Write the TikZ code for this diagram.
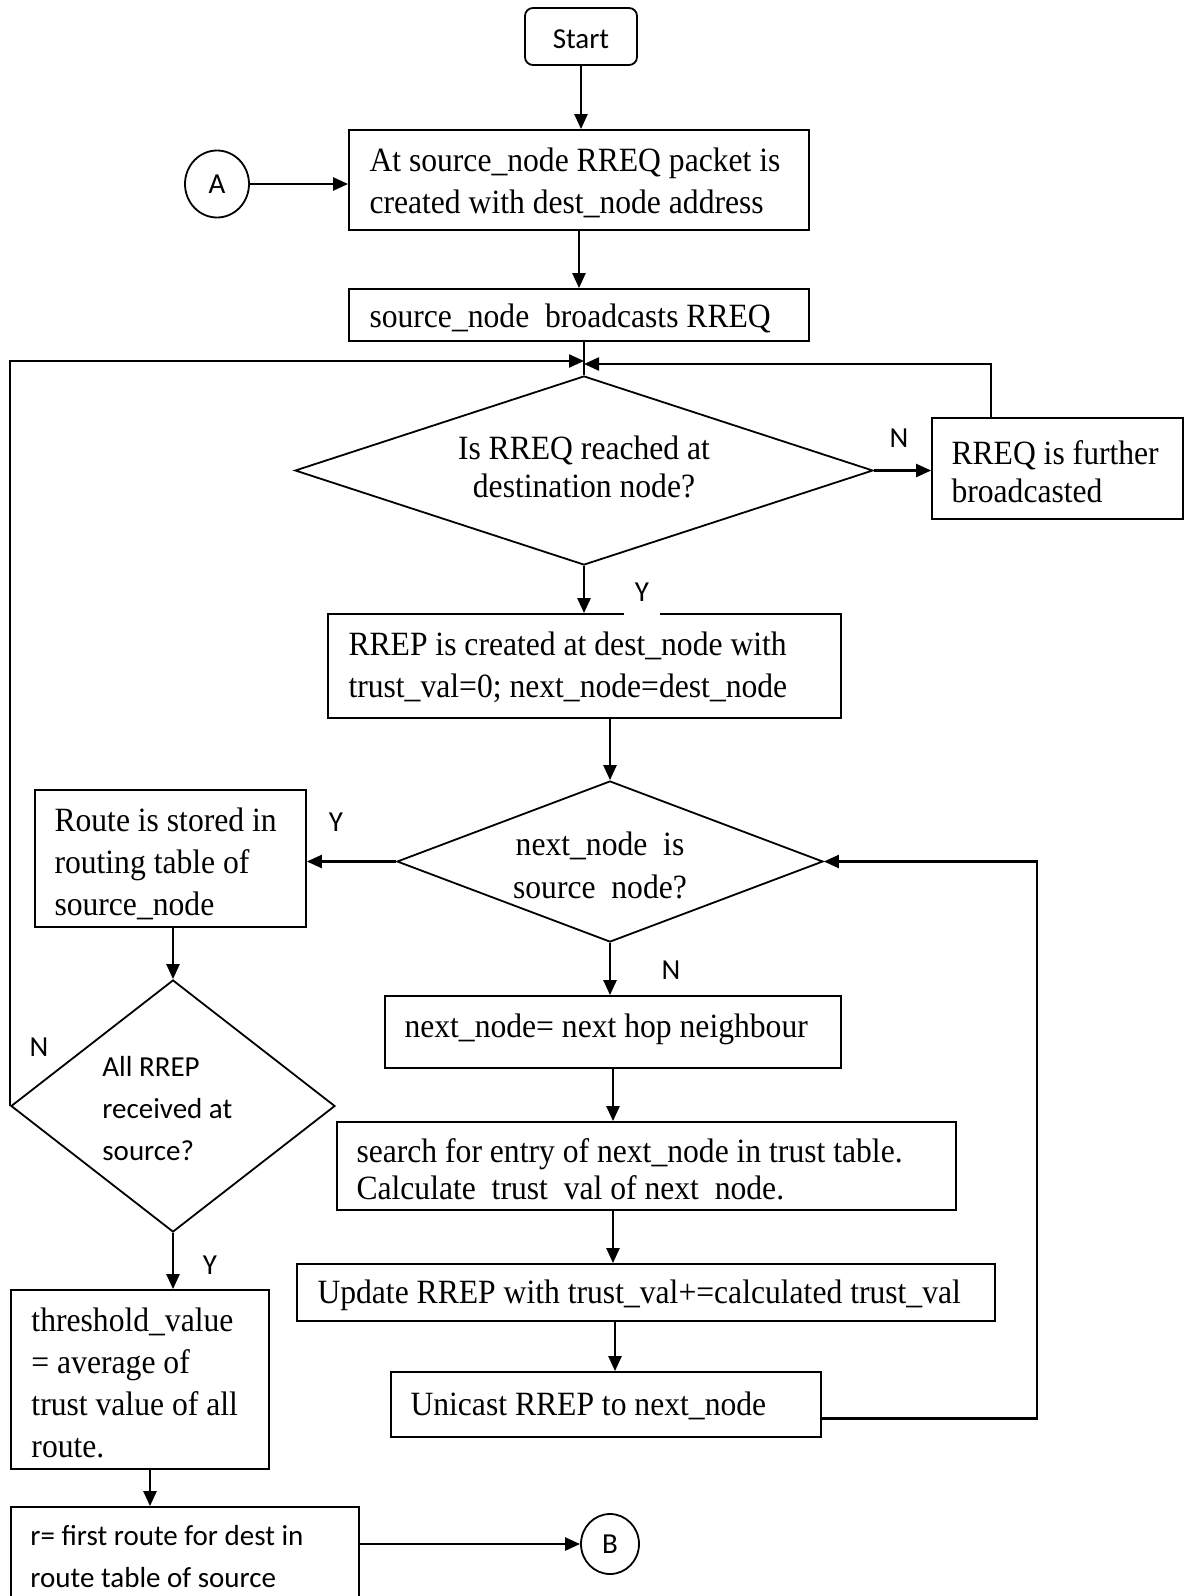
\documentclass[tikz,border=0pt]{standalone}
\usepackage{fontspec}
\setmainfont{Liberation Serif}[FakeStretch=0.93]
\newfontfamily\calfont{Carlito}
\usetikzlibrary{arrows.meta,shapes.geometric}

\tikzset{
  frame/.style={draw, line width=0.9pt, rectangle, inner sep=0pt},
  term/.style={draw, line width=0.9pt, rectangle, rounded corners=4pt,
    font=\calfont\fontsize{14.5}{17}\selectfont},
  conncircle/.style={draw, line width=0.9pt, ellipse, inner sep=0pt,
    font=\calfont\fontsize{14.5}{17}\selectfont},
  decision/.style={draw, line width=0.9pt, diamond, inner sep=0pt},
  txt/.style={align=left, inner sep=0pt, anchor=west, yshift=-1.5pt,
    font=\fontsize{17}{21}\selectfont},
  stxt/.style={align=left, inner sep=0pt, anchor=west,
    font=\calfont\fontsize{14.5}{21}\selectfont},
  ctxt/.style={align=center, inner sep=0pt,
    font=\fontsize{17}{19}\selectfont},
  lbl/.style={inner sep=1pt, font=\calfont\fontsize{14.5}{17}\selectfont},
  conn/.style={draw, line width=1.2pt},
  arr/.style={conn, -{Triangle[length=7.5pt,width=6.5pt]}},
}

\begin{document}
\begin{tikzpicture}[x=0.5pt,y=-0.5pt]
\useasboundingbox (0,0) rectangle (1184,1596);
\clip (0,0) rectangle (1184,1596);

% terminals and connectors
\node[term, minimum width=56pt, minimum height=28.5pt] (start) at (581,36.5) {\raisebox{-1.5pt}[\height][\depth]{Start}};
\node[conncircle, minimum width=32pt, minimum height=33.5pt] (A) at (217,184) {A};
\node[conncircle, minimum width=29pt, minimum height=30pt] (B) at (610,1544) {B};

% process boxes
\node[frame, minimum width=230pt, minimum height=50pt] (b1) at (579,180) {};
\node[txt] (b1t) at ([xshift=10.5pt]b1.west) {At source\_node RREQ packet is\\created with dest\_node address};

\node[frame, minimum width=230pt, minimum height=26pt] (b2) at (579,315) {};
\node[txt] (b2t) at ([xshift=10.5pt]b2.west) {source\_node\ \ broadcasts RREQ};

\node[frame, minimum width=125.5pt, minimum height=50.5pt] (b3) at (1057.5,468.5) {};
\node[txt, font=\fontsize{17}{19}\selectfont] (b3t) at ([xshift=10pt]b3.west) {RREQ is further\\broadcasted};

\node[frame, minimum width=256.5pt, minimum height=52pt] (b4) at (584.5,666) {};
\node[txt] (b4t) at ([xshift=10.5pt,yshift=1pt]b4.west) {RREP is created at dest\_node with\\trust\_val=0; next\_node=dest\_node};

\node[frame, minimum width=135.5pt, minimum height=68.5pt] (b5) at (170.5,858.5) {};
\node[txt] (b5t) at ([xshift=10pt,yshift=-1pt]b5.west) {Route is stored in\\routing table of\\source\_node};

\node[frame, minimum width=129pt, minimum height=89.5pt] (b6) at (140,1379.5) {};
\node[txt] (b6t) at ([xshift=10.5pt]b6.west) {threshold\_value\\= average of\\trust value of all\\route.};

\node[frame, minimum width=174pt, minimum height=49.5pt] (b7) at (185,1556.5) {};
\node[stxt] (b7t) at ([xshift=10pt]b7.west) {r= first route for dest in\\route table of source};

\node[frame, minimum width=228pt, minimum height=36pt] (b8) at (613,1032) {};
\node[txt] (b8t) at ([xshift=10pt,yshift=3pt]b8.west) {next\_node= next hop neighbour};

\node[frame, minimum width=309.5pt, minimum height=44pt] (b9) at (646.5,1166) {};
\node[txt, font=\fontsize{17}{18.5}\selectfont] (b9t) at ([xshift=10pt]b9.west) {search for entry of next\_node in trust table.\\Calculate\ \ trust\ \ val of next\ \ node.};

\node[frame, minimum width=349pt, minimum height=28.5pt] (b10) at (646,1292.5) {};
\node[txt] (b10t) at ([xshift=10.5pt]b10.west) {Update RREP with trust\_val+=calculated trust\_val};

\node[frame, minimum width=215pt, minimum height=32.5pt] (b11) at (606,1404.5) {};
\node[txt] (b11t) at ([xshift=10pt,yshift=1pt]b11.west) {Unicast RREP to next\_node};

% decisions
\node[decision, minimum width=289pt, minimum height=94.5pt] (d1) at (584,470.5) {};
\node[ctxt] (d1t) at (584,467) {Is RREQ reached at\\destination node?};

\node[decision, minimum width=213pt, minimum height=80.5pt] (d2) at (610,861.5) {};
\begin{scope}
  \clip (450,800) rectangle (760,898);
  \node[ctxt, font=\fontsize{17}{21.5}\selectfont] (d2t) at (600,867) {next\_node\ \ is\\source\_node?};
\end{scope}

\node[decision, minimum width=162pt, minimum height=126pt] (d3) at (173,1106) {};
\node[stxt] (d3t) at (102,1108.5) {All RREP\\received at\\source?};

% junction points above the first decision
\coordinate (jl) at (584,361);
\coordinate (jr) at (584,364);

% flow
\draw[arr] (start.south) -- (start.south |- b1.north);
\draw[arr] (A.east) -- (A.east -| b1.west);
\draw[arr] (b1.south) -- (b2.north);
\draw[conn] (d1.north |- b2.south) -- (d1.north);
\draw[arr] (d3.west) |- (jl);
\draw[arr] ([xshift=-33.25pt]b3.north) |- (jr);
\draw[arr] (d1.east) -- (d1.east -| b3.west);
\draw[arr] (d1.south) -- (d1.south |- b4.north);
\draw[arr] (d2.north |- b4.south) -- (d2.north);
\draw[arr] (d2.west) -- (d2.west -| b5.east);
\draw[arr] (d3.north |- b5.south) -- (d3.north);
\draw[arr] (d3.south) -- (d3.south |- b6.north);
\draw[arr] ([xshift=5pt]b6.south) -- ([xshift=5pt]b6.south |- b7.north);
\draw[arr] (B.west -| b7.east) -- (B.west);
\draw[arr] (d2.south) -- (d2.south |- b8.north);
\draw[arr] (b8.south) -- (b8.south |- b9.north);
\draw[arr] (b8.south |- b9.south) -- (b8.south |- b10.north);
\draw[arr] ([xshift=1pt]b8.south |- b10.south) -- ([xshift=1pt]b8.south |- b11.north);
\draw[arr] ([yshift=-7pt]b11.east) -| ([xshift=106.5pt]d2.east) -- (d2.east);

% branch labels
\node[lbl] (n1) at (899,438) {N};
\node[lbl, fill=white, minimum width=18pt, minimum height=25pt] (y1) at (642,592) {Y};
\node[lbl] (y2) at (336,822) {Y};
\node[lbl] (n2) at (671,970) {N};
\node[lbl] (n3) at (39,1047) {N};
\node[lbl] (y3) at (210,1265) {Y};
\end{tikzpicture}
\end{document}
